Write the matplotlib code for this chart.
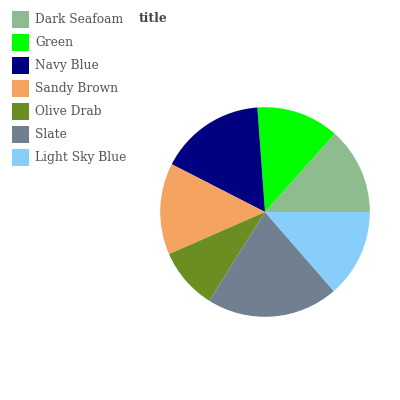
import matplotlib
matplotlib.use("Agg")
import matplotlib.pyplot as plt

plt.rcParams['font.family'] = 'DejaVu Serif'

labels = ["Dark Seafoam", "Green", "Navy Blue", "Sandy Brown", "Olive Drab", "Slate", "Light Sky Blue"]
values = [13.4, 12.75, 16.3, 14.1, 9.5, 20.3, 13.6]
colors = ["#8FBC8F", "#00FF00", "#000080", "#F4A460", "#6B8E23", "#708090", "#87CEFA"]

fig = plt.figure(figsize=(4, 4), dpi=100)
# pie centre ~ (265, 212) px, radius ~131 px
ax = fig.add_axes([(265 - 131) / 400, 1 - (212 + 131) / 400, 262 / 400, 262 / 400])
wedges, _ = ax.pie(values, colors=colors, startangle=0, counterclock=True)
ax.set_aspect('equal')

# legend: 17px square handles, 23px row pitch
fs = 8.8
f = fs * 100 / 72
hh = (17 / f - 0.245) / 0.65
fig.legend(wedges, labels, loc='upper left', bbox_to_anchor=(12 / 400, 1 - 11 / 400),
           frameon=False, fontsize=fs, labelcolor='#555555',
           handlelength=17 / f, handleheight=hh, handletextpad=6 / f,
           labelspacing=6 / f, borderaxespad=0, borderpad=0)
fig.text(153 / 400, 1 - 18 / 400, "title", ha='center', va='center', fontsize=fs,
         fontweight='bold', color='#444444')

fig.savefig("out.png", dpi=100)
